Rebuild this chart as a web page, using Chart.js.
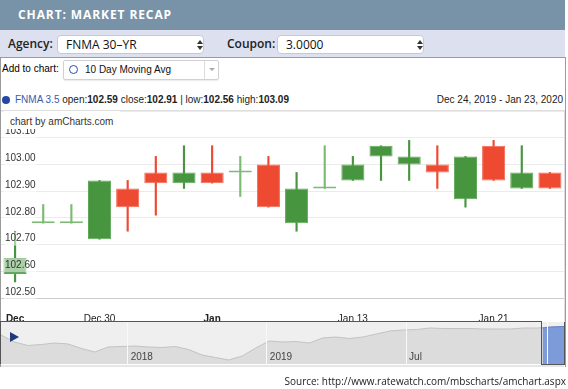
<!DOCTYPE html>
<html>
<head>
<meta charset="utf-8">
<script src="https://cdn.jsdelivr.net/npm/chart.js@4.4.1/dist/chart.umd.min.js"></script>
<style>
  body { margin: 0; width: 568px; height: 389px; position: relative; overflow: hidden; background: #fff;
         font-family: "Liberation Sans", Arial, sans-serif; color: #222; }
  .abs { position: absolute; }
  #hdr { left: 0; top: 0; width: 565px; height: 30px; background: #7892a7; color: #fff; box-sizing: border-box;
         padding-left: 18px; font: bold 12px "Open Sans"; letter-spacing: 0.9px; line-height: 30px; }
  #bar { left: 0; top: 30px; width: 565px; height: 27px; background: #dce0ef; }
  .lbl { top: 0; font: 600 12px "Open Sans"; line-height: 27px; color: #222; }
  .sel { top: 5px; width: 147px; height: 19px; box-sizing: border-box; background: #fff; border: 1px solid #c6c9d4;
         border-radius: 4px; font: 12px "Open Sans"; line-height: 17px; padding-left: 8px; color: #111; }
  .up, .dn { position: absolute; left: 139px; width: 0; height: 0; border-left: 3px solid transparent; border-right: 3px solid transparent; }
  .up { top: 4px; border-bottom: 4px solid #333; }
  .dn { top: 10px; border-top: 4px solid #333; }
  #box { left: 0; top: 57px; width: 566px; height: 310px; box-sizing: border-box; border: 1px solid #9a9a9a; border-bottom: none; }
  #add { left: 2px; top: 62px; font-size: 10px; line-height: 14px; color: #000; }
  #dd { left: 63px; top: 60px; width: 156px; height: 20px; box-sizing: border-box; border: 1px solid #d2d2d2;
        border-radius: 2px; box-shadow: 0 1px 1px rgba(0,0,0,0.08); font-size: 10px; line-height: 18px; }
  #dd .ring { position: absolute; left: 5px; top: 4px; width: 7px; height: 7px; border: 1.6px solid #2d4fb0; border-radius: 50%; }
  #dd .txt { position: absolute; left: 21px; top: 0; color: #111; }
  #dd .div { position: absolute; left: 140px; top: 0; width: 1px; height: 18px; background: #dcdcdc; }
  #dd .arr { position: absolute; left: 145px; top: 7px; width: 0; height: 0; border-left: 3px solid transparent;
             border-right: 3px solid transparent; border-top: 3px solid #aaa; }
  #dot { left: 2px; top: 96px; width: 8px; height: 8px; border-radius: 50%; background: #2647a5; }
  #leg { left: 15px; top: 94px; font-size: 10px; line-height: 12px; color: #222; white-space: nowrap; }
  #leg .nm { color: #3a5bab; }
  #rng { right: 5px; top: 94px; font-size: 10px; line-height: 12px; color: #222; }
  #cw { left: 1px; top: 110px; width: 564px; height: 212px; box-sizing: border-box; border-top: 1px solid #dedede; border-right: 1px solid #dedede; }
  #wm { left: 4px; top: 111px; width: 116px; height: 18px; box-sizing: border-box; background: #fff; padding: 3px 0 0 6px;
        font-size: 10px; line-height: 15px; color: #333; }
  #nav { left: 1px; top: 322px; width: 563px; height: 42px; background: #efefef; }
  #unsel { left: 0; top: 321px; width: 542px; height: 43px; box-sizing: border-box; border-top: 1px solid #555; border-right: 1px solid #555; border-left: 1px solid #555; }
  #selb { left: 541px; top: 322px; width: 24px; height: 43px; box-sizing: border-box; border-right: 1px solid #555; border-bottom: 1px solid #555; }
  #strip { left: 1px; top: 365px; width: 563px; height: 2px; background: #e6e6e6; }
  #play { left: 10px; top: 332px; width: 0; height: 0; border-left: 9px solid #1f3a7a; border-top: 5px solid transparent; border-bottom: 5px solid transparent; }
  #src { right: 2px; top: 374px; font: 10px "Open Sans"; line-height: 14px; color: #222; }
</style>
</head>
<body>
<div id="hdr" class="abs">CHART: MARKET RECAP</div>
<div id="bar" class="abs">
  <div class="abs lbl" style="left:8px">Agency:</div>
  <div class="abs sel" style="left:57px">FNMA 30–YR<span class="up"></span><span class="dn"></span></div>
  <div class="abs lbl" style="left:227px">Coupon:</div>
  <div class="abs sel" style="left:277px">3.0000<span class="up"></span><span class="dn"></span></div>
</div>
<div id="box" class="abs"></div>
<div id="add" class="abs">Add to chart:</div>
<div id="dd" class="abs"><span class="ring"></span><span class="txt">10 Day Moving Avg</span><span class="div"></span><span class="arr"></span></div>
<div id="dot" class="abs"></div>
<div id="leg" class="abs"><span class="nm">FNMA 3.5</span> open:<b>102.59</b> close:<b>102.91</b> | low:<b>102.56</b> high:<b>103.09</b></div>
<div id="rng" class="abs">Dec 24, 2019 - Jan 23, 2020</div>
<div id="cw" class="abs"><canvas id="candles"></canvas></div>
<div id="wm" class="abs">chart by amCharts.com</div>
<div id="nav" class="abs"><canvas id="navigator"></canvas></div>
<div id="unsel" class="abs"></div>
<div id="selb" class="abs"></div>
<div id="strip" class="abs"></div>
<div id="play" class="abs"></div>
<div id="src" class="abs">Source: http://www.ratewatch.com/mbscharts/amchart.aspx</div>

<script>
// daily candles, Dec 24 2019 - Jan 23 2020
const DATES = ['2019-12-24', '2019-12-26', '2019-12-27', '2019-12-30', '2019-12-31', '2020-01-02', '2020-01-03',
  '2020-01-06', '2020-01-07', '2020-01-08', '2020-01-09', '2020-01-10', '2020-01-13', '2020-01-14',
  '2020-01-15', '2020-01-16', '2020-01-17', '2020-01-21', '2020-01-22', '2020-01-23'];
const OPEN  = [102.59, 102.78, 102.78, 102.72, 102.91, 102.97, 102.93, 102.97, 102.97, 103.00,
  102.78, 102.91, 102.94, 103.03, 103.00, 103.00, 102.87, 103.07, 102.91, 102.97];
const HIGH  = [102.75, 102.85, 102.85, 102.94, 102.94, 103.03, 103.07, 103.07, 103.03, 103.03,
  102.97, 103.07, 103.03, 103.07, 103.09, 103.07, 103.03, 103.09, 103.07, 102.97];
const LOW   = [102.56, 102.78, 102.78, 102.72, 102.75, 102.81, 102.91, 102.93, 102.88, 102.84,
  102.75, 102.91, 102.94, 102.94, 102.94, 102.91, 102.84, 102.94, 102.91, 102.91];
const CLOSE = [102.65, 102.78, 102.78, 102.94, 102.84, 102.93, 102.97, 102.93, 102.97, 102.84,
  102.91, 102.91, 103.00, 103.07, 103.03, 102.97, 103.03, 102.94, 102.97, 102.91];

// which dates get an x label
const X_LABELS = { '2019-12-24': 'Dec', '2019-12-30': 'Dec 30', '2020-01-06': 'Jan', '2020-01-13': 'Jan 13', '2020-01-21': 'Jan 21' };
const BOLD_LABELS = ['Dec', 'Jan'];

// navigator (long history)
const NAV_VALUES = [101.77, 100.83, 100.37, 100.50, 100.70, 100.57, 99.97, 99.50, 100.17, 100.23,
  100.30, 100.17, 100.10, 100.23, 99.83, 99.10, 98.77, 98.43, 98.97, 100.03,
  100.97, 100.83, 100.90, 100.70, 101.37, 101.50, 101.30, 101.50, 101.90, 102.30,
  102.43, 102.50, 102.70, 102.63, 102.63, 102.63, 102.57, 102.57, 102.57, 102.70,
  102.70, 102.83, 102.90];
const NAV_TICKS = [9.45, 19.83, 30.22, 40.8];
const NAV_LABELS = ['2018', '2019', 'Jul', ''];
const SEL_START = 40.4;

const GREEN = '#47963f', RED = '#ee4931', DOJI = '#7dbb75';
const font = 'Liberation Sans';

function candleColor(i) {
  if (CLOSE[i] > OPEN[i]) return GREEN;
  if (CLOSE[i] < OPEN[i]) return RED;
  return DOJI;
}
const bodyColors = DATES.map((d, i) => candleColor(i));
const edgeColors = DATES.map((d, i) => CLOSE[i] > OPEN[i] ? '#62a85b' : CLOSE[i] < OPEN[i] ? '#f26a55' : DOJI);

// no automatic label padding around the plot
function noPad(s) { s.paddingTop = 0; s.paddingBottom = 0; s.paddingLeft = 0; s.paddingRight = 0; }

// year labels sit inside the scrollbar, just right of each divider
const navLabels = {
  id: 'navLabels',
  afterDraw(chart) {
    const xs = chart.scales.x, ctx = chart.ctx;
    ctx.save();
    ctx.font = '10px "Liberation Sans"';
    ctx.fillStyle = '#444';
    ctx.textBaseline = 'middle';
    NAV_TICKS.forEach((v, i) => ctx.fillText(NAV_LABELS[i], xs.getPixelForValue(v) + 3, chart.chartArea.bottom - 7));
    ctx.restore();
  }
};

window.addEventListener('DOMContentLoaded', () => {
  new Chart(document.getElementById('candles'), {
    type: 'bar',
    data: {
      labels: DATES,
      datasets: [{
        label: 'body',
        data: DATES.map((d, i) => [OPEN[i], CLOSE[i]]),
        backgroundColor: bodyColors,
        borderColor: edgeColors,
        borderWidth: 1,
        borderSkipped: false,
        minBarLength: 2,
        barPercentage: 0.82,
        categoryPercentage: 1,
        grouped: false,
        order: 0
      }, {
        label: 'wick',
        data: DATES.map((d, i) => [LOW[i], HIGH[i]]),
        backgroundColor: bodyColors,
        barThickness: 1.5,
        grouped: false,
        order: 1
      }]
    },
    options: {
      responsive: true,
      maintainAspectRatio: false,
      animation: false,
      events: [],
      layout: { padding: 0 },
      plugins: { legend: { display: false }, tooltip: { enabled: false } },
      scales: {
        x: {
          offset: true,
          afterFit: s => { s.height = 24; noPad(s); },
          border: { display: true, color: '#cccccc', width: 1 },
          grid: { display: false },
          ticks: {
            autoSkip: false, maxRotation: 0, padding: 7, color: '#222',
            font: ctx => ({ family: font, size: 10, weight: BOLD_LABELS.includes(ctx.tick && ctx.tick.label) ? 'bold' : 'normal' }),
            callback: (v, i) => X_LABELS[DATES[i]] || ''
          }
        },
        y: {
          min: 102.5, max: 103.2,
          afterFit: s => { s.width = 0; noPad(s); },
          border: { display: false },
          grid: { color: '#ebebeb', drawTicks: false },
          ticks: {
            stepSize: 0.1, mirror: true, padding: 4, labelOffset: -6, z: 1, color: '#333',
            font: { family: font, size: 10 },
            showLabelBackdrop: true, backdropColor: 'rgba(255,255,255,0.55)', backdropPadding: { x: 1, y: 1 },
            callback: v => v > 103.15 ? '' : v.toFixed(2)
          }
        }
      }
    }
  });

  const navData = NAV_VALUES.map((v, i) => ({ x: i, y: v }));
  const selData = [{ x: SEL_START, y: NAV_VALUES[40] }].concat(navData.filter(p => p.x > SEL_START));

  new Chart(document.getElementById('navigator'), {
    type: 'line',
    data: {
      datasets: [{
        data: navData, borderColor: '#c2c2c2', borderWidth: 1, backgroundColor: '#dcdcdc',
        fill: 'start', pointRadius: 0, tension: 0, order: 1
      }, {
        data: selData, borderColor: '#5f80c8', borderWidth: 1, backgroundColor: '#7c9bd8',
        fill: 'start', pointRadius: 0, tension: 0, order: 0
      }]
    },
    options: {
      responsive: true,
      maintainAspectRatio: false,
      animation: false,
      events: [],
      layout: { padding: 0 },
      plugins: { legend: { display: false }, tooltip: { enabled: false } },
      scales: {
        x: {
          type: 'linear', min: 0, max: 42,
          afterFit: s => { s.height = 0; noPad(s); },
          afterBuildTicks: s => { s.ticks = NAV_TICKS.map(v => ({ value: v })); },
          border: { display: false },
          grid: { color: '#f9f9f9', drawTicks: false, z: 1 },
          ticks: { display: false }
        },
        y: { display: false, min: 97.9, max: 103.5 }
      }
    },
    plugins: [navLabels]
  });
});
</script>
</body>
</html>
